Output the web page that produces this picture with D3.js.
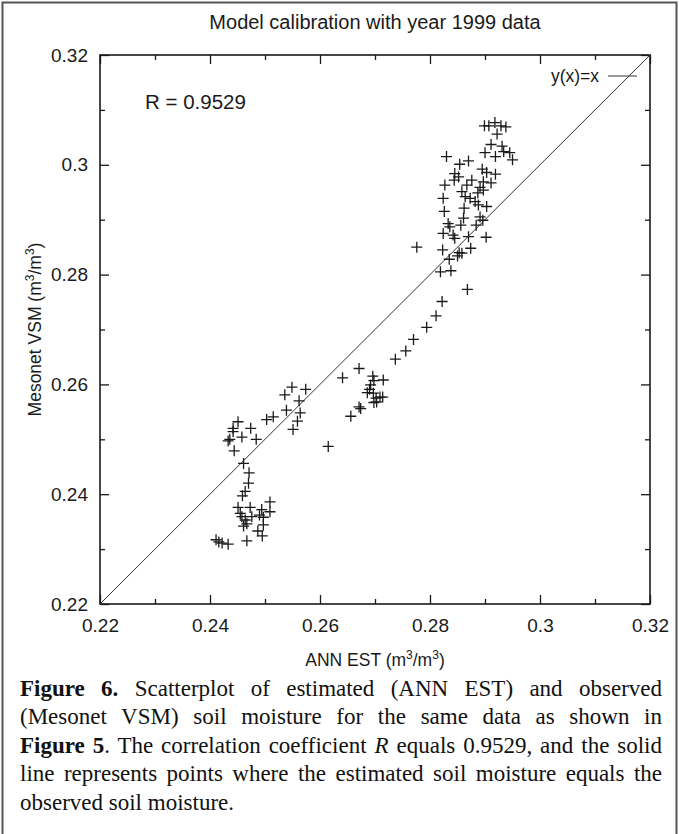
<!DOCTYPE html>
<html>
<head>
<meta charset="utf-8">
<script src="https://cdn.jsdelivr.net/npm/d3@7"></script>
<style>
  html, body { margin: 0; padding: 0; background: #fff; }
  svg { display: block; }
</style>
</head>
<body>
<svg id="chart" width="679" height="834"></svg>
<script>
// ---- data ----
const annEst = [
  0.2899,0.2907,0.2918,0.2929,0.2938,0.2922,0.2911,0.2931,0.2900,0.2919,0.2934,0.2945,0.2950,
  0.2830,0.2854,0.2870,0.2895,0.2903,0.2919,0.2845,0.2852,0.2844,0.2876,0.2911,0.2897,
  0.2827,0.2867,0.2891,0.2897,0.2887,0.2858,0.2824,0.2864,0.2873,0.2882,0.2888,0.2903,0.2862,
  0.2826,0.2891,0.2861,0.2833,0.2836,0.2856,0.2884,0.2896,0.2824,0.2842,0.2845,0.2870,0.2902,
  0.2776,0.2823,0.2874,0.2850,0.2853,0.2858,0.2835,0.2819,0.2838,0.2868,
  0.2822,0.2811,0.2794,0.2770,0.2756,0.2737,0.2671,0.2641,
  0.2696,0.2698,0.2715,0.2692,0.2690,0.2686,0.2697,0.2702,0.2709,0.2714,0.2698,0.2703,
  0.2674,0.2671,0.2656,0.2615,
  0.2549,0.2574,0.2536,0.2562,0.2539,0.2564,0.2515,0.2503,0.2559,0.2551,
  0.2451,0.2442,0.2442,0.2474,0.2458,0.2484,0.2433,0.2436,0.2444,0.2461,0.2471,0.2470,
  0.2464,0.2459,0.2509,0.2451,0.2473,0.2494,0.2509,0.2455,0.2458,0.2476,0.2464,0.2490,
  0.2497,0.2467,0.2461,0.2497,0.2487,0.2495,0.2467,0.2411,0.2416,0.2433,0.2422
];
const mesonetVsm = [
  0.3071,0.3071,0.3077,0.3071,0.3069,0.3056,0.3037,0.3034,0.3022,0.3015,0.3024,0.3022,0.3009,
  0.3015,0.3001,0.3007,0.2992,0.2986,0.2983,0.2984,0.2978,0.2972,0.2972,0.2967,0.2969,
  0.2963,0.2963,0.2959,0.2954,0.2949,0.2951,0.2939,0.2942,0.2939,0.2933,0.2927,0.2924,0.2921,
  0.2915,0.2905,0.2903,0.2893,0.2887,0.2890,0.2890,0.2899,0.2875,0.2872,0.2866,0.2869,0.2868,
  0.2850,0.2845,0.2848,0.2834,0.2840,0.2839,0.2828,0.2805,0.2807,0.2773,
  0.2751,0.2725,0.2704,0.2682,0.2661,0.2646,0.2629,0.2612,
  0.2615,0.2607,0.2608,0.2599,0.2591,0.2585,0.2584,0.2575,0.2577,0.2577,0.2567,0.2568,
  0.2556,0.2559,0.2542,0.2487,
  0.2595,0.2591,0.2581,0.2570,0.2553,0.2548,0.2541,0.2536,0.2533,0.2518,
  0.2532,0.2520,0.2514,0.2520,0.2504,0.2500,0.2497,0.2500,0.2479,0.2456,0.2439,0.2420,
  0.2405,0.2397,0.2386,0.2376,0.2376,0.2372,0.2368,0.2365,0.2359,0.2359,0.2353,0.2362,
  0.2358,0.2346,0.2342,0.2344,0.2333,0.2324,0.2315,0.2317,0.2313,0.2309,0.2311
];
const axisDomain = [0.22, 0.32];
const majorTicks = [0.22, 0.24, 0.26, 0.28, 0.30, 0.32];
const minorTicks = [0.23, 0.25, 0.27, 0.29, 0.31];
const tickLabels = ["0.22", "0.24", "0.26", "0.28", "0.3", "0.32"];
const identityLine = [0.22, 0.32];
const rValue = "0.9529";

// ---- layout ----
const svg = d3.select("#chart");
const L = 100, R = 650, T = 55, B = 604;
const x = d3.scaleLinear().domain(axisDomain).range([L, R]);
const y = d3.scaleLinear().domain(axisDomain).range([B, T]);
const ink = "#1a1a1a";
const sans = "'Liberation Sans', Arial, Helvetica, sans-serif";
const serif = "'Liberation Serif', 'Times New Roman', serif";

// outer frame
svg.append("rect").attr("x", 2.5).attr("y", 2.5).attr("width", 674).attr("height", 850)
  .attr("fill", "none").attr("stroke", "#555").attr("stroke-width", 2);

// title
svg.append("text").attr("x", (L + R) / 2 + 0).attr("y", 29).attr("text-anchor", "middle")
  .style("font-family", sans).style("font-size", "20px").attr("fill", ink)
  .text("Model calibration with year 1999 data");

// axes with inward ticks (gnuplot style), mirrored
function styleAxis(g) {
  g.selectAll("path").remove();
  g.selectAll("line").attr("stroke", ink).attr("stroke-width", 1.3);
  g.selectAll("text").style("font-family", sans).style("font-size", "19px").attr("fill", ink);
}
const fmt = d => tickLabels[majorTicks.findIndex(t => Math.abs(t - d) < 1e-9)];

svg.append("g").attr("transform", `translate(0,${B})`)
  .call(d3.axisBottom(x).tickValues(majorTicks).tickSizeInner(-9).tickSizeOuter(0).tickPadding(15).tickFormat(fmt))
  .call(styleAxis);
svg.append("g").attr("transform", `translate(0,${B})`)
  .call(d3.axisBottom(x).tickValues(minorTicks).tickSizeInner(-5).tickSizeOuter(0).tickFormat(""))
  .call(styleAxis);
svg.append("g").attr("transform", `translate(0,${T})`)
  .call(d3.axisTop(x).tickValues(majorTicks).tickSizeInner(-9).tickSizeOuter(0).tickFormat(""))
  .call(styleAxis);
svg.append("g").attr("transform", `translate(0,${T})`)
  .call(d3.axisTop(x).tickValues(minorTicks).tickSizeInner(-5).tickSizeOuter(0).tickFormat(""))
  .call(styleAxis);
svg.append("g").attr("transform", `translate(${L},0)`)
  .call(d3.axisLeft(y).tickValues(majorTicks).tickSizeInner(-9).tickSizeOuter(0).tickPadding(12).tickFormat(fmt))
  .call(styleAxis);
svg.append("g").attr("transform", `translate(${L},0)`)
  .call(d3.axisLeft(y).tickValues(minorTicks).tickSizeInner(-5).tickSizeOuter(0).tickFormat(""))
  .call(styleAxis);
svg.append("g").attr("transform", `translate(${R},0)`)
  .call(d3.axisRight(y).tickValues(majorTicks).tickSizeInner(-9).tickSizeOuter(0).tickFormat(""))
  .call(styleAxis);
svg.append("g").attr("transform", `translate(${R},0)`)
  .call(d3.axisRight(y).tickValues(minorTicks).tickSizeInner(-5).tickSizeOuter(0).tickFormat(""))
  .call(styleAxis);

// plot border
svg.append("rect").attr("x", L).attr("y", T).attr("width", R - L).attr("height", B - T)
  .attr("fill", "none").attr("stroke", ink).attr("stroke-width", 1.6);

// identity line y(x)=x
svg.append("line")
  .attr("x1", x(identityLine[0])).attr("y1", y(identityLine[0]))
  .attr("x2", x(identityLine[1])).attr("y2", y(identityLine[1]))
  .attr("stroke", "#333").attr("stroke-width", 1);

// legend
svg.append("text").attr("x", 599).attr("y", 82).attr("text-anchor", "end")
  .style("font-family", sans).style("font-size", "17.5px").attr("fill", ink).text("y(x)=x");
svg.append("line").attr("x1", 608).attr("x2", 637).attr("y1", 76).attr("y2", 76)
  .attr("stroke", "#333").attr("stroke-width", 1);

// R annotation
svg.append("text").attr("x", 145).attr("y", 109)
  .style("font-family", sans).style("font-size", "20.5px").attr("fill", ink).text("R = " + rValue);

// points as + markers
const pts = annEst.map((v, i) => [v, mesonetVsm[i]]);
const h = 5.5;
svg.append("g").selectAll("path").data(pts).join("path")
  .attr("d", d => `M${x(d[0]) - h},${y(d[1])}h${2 * h}M${x(d[0])},${y(d[1]) - h}v${2 * h}`)
  .attr("stroke", ink).attr("stroke-width", 1.3).attr("fill", "none");

// axis titles
const xt = svg.append("text").attr("x", (L + R) / 2).attr("y", 666).attr("text-anchor", "middle")
  .style("font-family", sans).style("font-size", "17.5px").attr("fill", ink);
xt.append("tspan").text("ANN EST (m");
xt.append("tspan").attr("dy", -7).style("font-size", "12px").text("3");
xt.append("tspan").attr("dy", 7).text("/m");
xt.append("tspan").attr("dy", -7).style("font-size", "12px").text("3");
xt.append("tspan").attr("dy", 7).text(")");

const yt = svg.append("text").attr("transform", `translate(41,${(T + B) / 2}) rotate(-90)`)
  .attr("text-anchor", "middle")
  .style("font-family", sans).style("font-size", "17.5px").attr("fill", ink);
yt.append("tspan").text("Mesonet VSM (m");
yt.append("tspan").attr("dy", -7).style("font-size", "12px").text("3");
yt.append("tspan").attr("dy", 7).text("/m");
yt.append("tspan").attr("dy", -7).style("font-size", "12px").text("3");
yt.append("tspan").attr("dy", 7).text(")");

// caption (justified)
const captionLines = [
  [["b", "Figure 6."], ["n", " Scatterplot of estimated (ANN EST) and observed"]],
  [["n", "(Mesonet VSM) soil moisture for the same data as shown in"]],
  [["b", "Figure 5"], ["n", ". The correlation coefficient "], ["i", "R"], ["n", " equals 0.9529, and the solid"]],
  [["n", "line represents points where the estimated soil moisture equals the"]],
  [["n", "observed soil moisture."]]
];
const capX0 = 20, capX1 = 662, capY0 = 696, capDy = 28.4;
captionLines.forEach((line, li) => {
  const t = svg.append("text").attr("x", capX0).attr("y", capY0 + li * capDy)
    .style("font-family", serif).style("font-size", "23px").attr("fill", "#111")
    .attr("xml:space", "preserve");
  line.forEach(([k, s]) => {
    const ts = t.append("tspan").text(s);
    if (k === "b") ts.style("font-weight", "bold");
    if (k === "i") ts.style("font-style", "italic");
  });
  if (li < captionLines.length - 1) {
    const w = t.node().getComputedTextLength();
    const txt = line.map(p => p[1]).join("");
    const nSpaces = (txt.match(/ /g) || []).length;
    if (nSpaces > 0) t.style("word-spacing", ((capX1 - capX0 - w) / nSpaces) + "px");
  }
});
</script>
</body>
</html>
